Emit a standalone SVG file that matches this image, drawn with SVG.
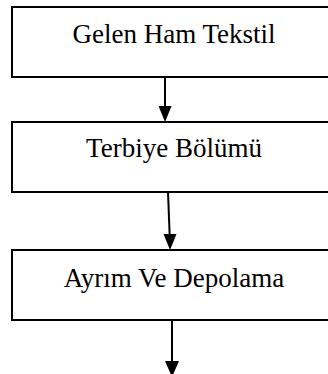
<svg xmlns="http://www.w3.org/2000/svg" width="328" height="374" viewBox="0 0 328 374">
<style>
.box{fill:#fff;stroke:#000;stroke-width:2}
.lbl{font-family:"Liberation Serif","Times New Roman",serif;font-size:27px;fill:#000;text-anchor:middle}
.con{stroke:#000;stroke-width:2;fill:none}
.head{fill:#000}
</style>
<rect width="328" height="374" fill="#fff"/>
<g id="node1">
<rect class="box" x="12" y="7" width="330" height="70"/>
<text class="lbl" x="174" y="43">Gelen Ham Tekstil</text>
</g>
<g id="node2">
<rect class="box" x="12" y="122" width="330" height="70"/>
<text class="lbl" x="174" y="157">Terbiye Bölümü</text>
</g>
<g id="node3">
<rect class="box" x="12" y="250" width="330" height="70"/>
<text class="lbl" x="174" y="287">Ayrım Ve Depolama</text>
</g>
<g id="connectors">
<line class="con" x1="165" y1="77" x2="165" y2="108"/>
<polygon class="head" points="158.5,106 171.5,106 165,122"/>
<line class="con" x1="168" y1="192" x2="169.7" y2="236"/>
<polygon class="head" points="163.5,234 176.5,234 170,250"/>
<line class="con" x1="172" y1="320" x2="172" y2="363"/>
<polygon class="head" points="165,361 179,361 172,377"/>
</g>
</svg>
